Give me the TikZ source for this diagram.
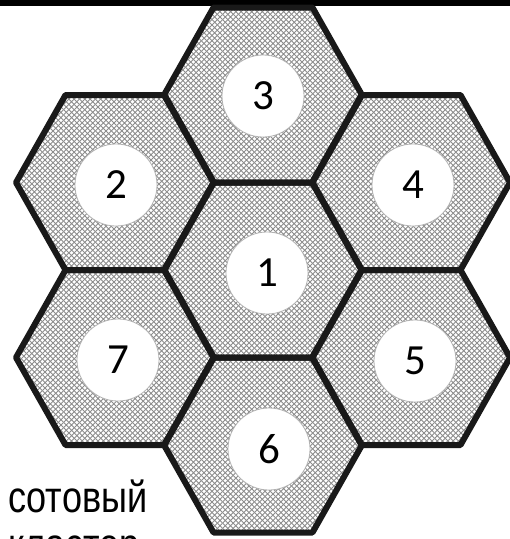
\documentclass[tikz,border=0pt]{standalone}
\usepackage{fontspec}
\setmainfont{Liberation Sans}
\newfontfamily\digitfont{Carlito}
\newfontfamily\labelfont{Liberation Sans}[FakeStretch=0.82]
\usetikzlibrary{patterns.meta}

\tikzdeclarepattern{
  name=cellmesh,
  type=uncolored,
  bounding box={(-0.1pt,-0.1pt) and (5.4pt,5.4pt)},
  tile size={(5.3pt,5.3pt)},
  code={\draw[line width=0.9pt] (0,0) -- (5.3pt,5.3pt) (0,5.3pt) -- (5.3pt,0);}
}

\begin{document}
\begin{tikzpicture}[
  x=1pt, y=-1pt,
  hexcell/.style={pattern={cellmesh}, pattern color=black!45},
  hexedge/.style={draw=black!90, line width=6pt, line join=round},
  numdisc/.style={circle, fill=white, draw=black!30, line width=0.8pt,
    minimum size=82pt, inner sep=0pt, font=\digitfont\fontsize{43}{43}\selectfont},
  caption/.style={anchor=base west, inner sep=0pt, font=\labelfont\fontsize{44}{47}\selectfont}
]
  \clip (0,0) rectangle (510,539);
  \fill[black] (0,0) rectangle (510,6);

  % seven cells of the cluster
  \foreach \cx/\cy in {263/270, 115/182.5, 263/95, 411/182.5, 411/357.5, 263/445, 115/357.5}
    \fill[hexcell, shift={(\cx,\cy)}] (-99,0) -- (-49.5,-87.5) -- (49.5,-87.5) -- (99,0)
      -- (49.5,87.5) -- (-49.5,87.5) -- cycle;
  \foreach \cx/\cy in {263/270, 115/182.5, 263/95, 411/182.5, 411/357.5, 263/445, 115/357.5}
    \draw[hexedge, shift={(\cx,\cy)}] (-99,0) -- (-49.5,-87.5) -- (49.5,-87.5) -- (99,0)
      -- (49.5,87.5) -- (-49.5,87.5) -- cycle;

  \node[numdisc] (c1) at (267,273) {1};
  \node[numdisc] (c2) at (116,185) {2};
  \node[numdisc] (c3) at (263,96) {3};
  \node[numdisc] (c4) at (413,185) {4};
  \node[numdisc] (c5) at (415,361) {5};
  \node[numdisc] (c6) at (269,449) {6};
  \node[numdisc] (c7) at (118,360) {7};

  \node[caption] (lbltop) at (8,512) {сотовый};
  \node[caption] (lblbot) at (8,559) {кластер};
\end{tikzpicture}
\end{document}
